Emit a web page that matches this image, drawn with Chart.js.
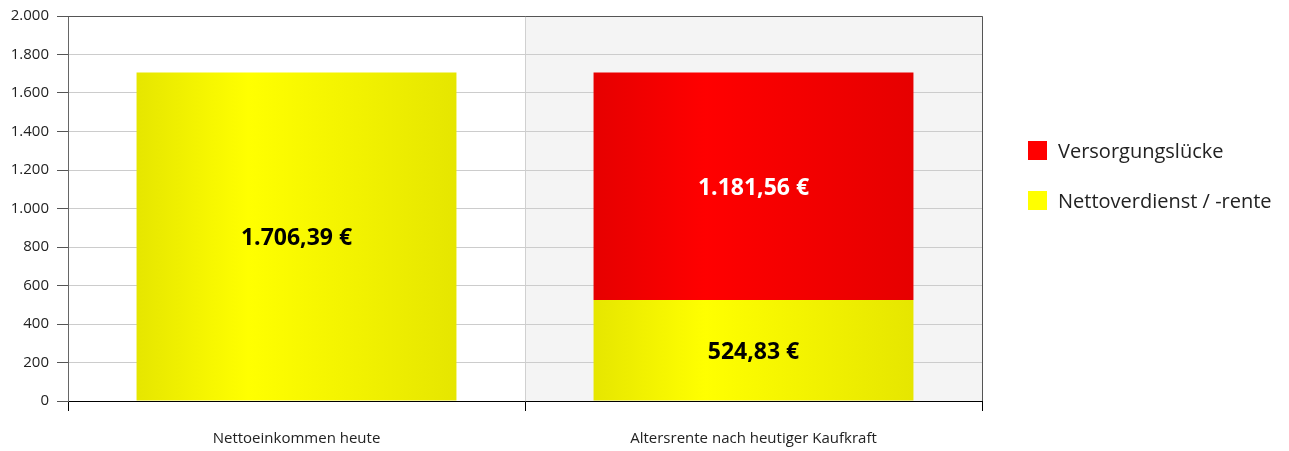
<!DOCTYPE html>
<html>
<head>
<meta charset="utf-8">
<script src="https://cdn.jsdelivr.net/npm/chart.js@4/dist/chart.umd.min.js"></script>
<style>
  html, body { margin: 0; padding: 0; background: #fff; }
  #wrap { width: 1289px; height: 451px; }
</style>
</head>
<body>
<div id="wrap"><canvas id="chart" width="1289" height="451"></canvas></div>
<script>
var categories = ["Nettoeinkommen heute", "Altersrente nach heutiger Kaufkraft"];
var nettoValues = [1706.39, 524.83];
var lueckeValues = [0, 1181.56];
var yTicks = [0, 200, 400, 600, 800, 1000, 1200, 1400, 1600, 1800, 2000];

function fmtNum(v, dec) {
    return v.toLocaleString("de-DE", { minimumFractionDigits: dec, maximumFractionDigits: dec });
}

function barGradient(ctx, dark, bright) {
    var chart = ctx.chart;
    var area = chart.chartArea;
    if (!area) return bright;
    var xs = chart.scales.x;
    var w = xs.width / categories.length * 0.7;
    var cx = xs.getPixelForValue(ctx.dataIndex);
    var g = chart.ctx.createLinearGradient(cx - w / 2, 0, cx + w / 2, 0);
    g.addColorStop(0, dark);
    g.addColorStop(0.35, bright);
    g.addColorStop(1, dark);
    return g;
}

// grey background behind second category + frame on top / right
var bgPlugin = {
    id: "bgPlugin",
    beforeDraw: function(chart) {
        var a = chart.chartArea, xs = chart.scales.x, c = chart.ctx;
        var mid = (xs.getPixelForValue(0) + xs.getPixelForValue(1)) / 2;
        c.save();
        c.fillStyle = "#f4f4f4";
        c.fillRect(mid, a.top, a.right - mid, a.bottom - a.top);
        c.restore();
    },
    afterDraw: function(chart) {
        var a = chart.chartArea, c = chart.ctx;
        c.save();
        c.strokeStyle = "#555";
        c.lineWidth = 1;
        c.beginPath();
        c.moveTo(a.left, a.top + 0.5);
        c.lineTo(a.right + 0.5, a.top + 0.5);
        c.lineTo(a.right + 0.5, a.bottom);
        c.stroke();
        c.restore();
    }
};

// value labels in the middle of each segment
var labelPlugin = {
    id: "labelPlugin",
    afterDatasetsDraw: function(chart) {
        var c = chart.ctx;
        c.save();
        c.font = "bold 23px 'Open Sans'";
        c.textAlign = "center";
        c.textBaseline = "middle";
        chart.data.datasets.forEach(function(ds, di) {
            var meta = chart.getDatasetMeta(di);
            meta.data.forEach(function(bar, i) {
                var v = ds.data[i];
                if (!v) return;
                c.fillStyle = ds.labelColor;
                c.fillText(fmtNum(v, 2) + " €", bar.x, (bar.y + bar.base) / 2 + 2);
            });
        });
        c.restore();
    }
};

// legend at right
var legendPlugin = {
    id: "legendPlugin",
    afterDraw: function(chart) {
        var c = chart.ctx;
        var ds = chart.data.datasets.slice().reverse();
        c.save();
        c.font = "20px 'Open Sans'";
        c.textBaseline = "middle";
        c.textAlign = "left";
        ds.forEach(function(d, i) {
            var y = 151 + i * 50;
            c.fillStyle = d.legendColor;
            c.fillRect(1028, y - 10, 19, 19);
            c.fillStyle = "#222";
            c.fillText(d.label, 1058, y + 1);
        });
        c.restore();
    }
};

var ctx = document.getElementById("chart");
new Chart(ctx, {
    type: "bar",
    data: {
        labels: categories,
        datasets: [{
            label: "Nettoverdienst / -rente",
            data: nettoValues,
            legendColor: "#ffff00",
            labelColor: "#000",
            backgroundColor: function(c) { return barGradient(c, "#e6e600", "#ffff00"); }
        }, {
            label: "Versorgungslücke",
            data: lueckeValues,
            legendColor: "#ff0000",
            labelColor: "#fff",
            backgroundColor: function(c) { return barGradient(c, "#e60000", "#ff0000"); }
        }]
    },
    plugins: [bgPlugin, labelPlugin, legendPlugin],
    options: {
        responsive: false,
        animation: false,
        maintainAspectRatio: false,
        categoryPercentage: 0.7,
        barPercentage: 1,
        layout: { padding: { top: 16, right: 307, left: 0, bottom: 0 } },
        plugins: { legend: { display: false }, tooltip: { enabled: false } },
        scales: {
            x: {
                stacked: true,
                offset: true,
                border: { color: "#000", width: 1 },
                grid: { offset: true, color: "#d0d0d0", tickColor: "#000", tickLength: 10 },
                ticks: { color: "#222", padding: 19, font: { family: "'Open Sans'", size: 15 } },
                afterFit: function(s) { s.height = 50; }
            },
            y: {
                stacked: true,
                min: 0,
                max: 2000,
                afterBuildTicks: function(s) { s.ticks = yTicks.map(function(v) { return { value: v }; }); },
                border: { color: "#666", width: 1 },
                grid: { color: "#cccccc", tickColor: "#555", tickLength: 11 },
                ticks: {
                    color: "#222", padding: 8,
                    font: { family: "'Open Sans'", size: 15 },
                    callback: function(v) { return fmtNum(v, 0); }
                },
                afterFit: function(s) { s.width = 68; s.paddingTop = 0; s.paddingBottom = 0; }
            }
        }
    }
});
</script>
</body>
</html>
